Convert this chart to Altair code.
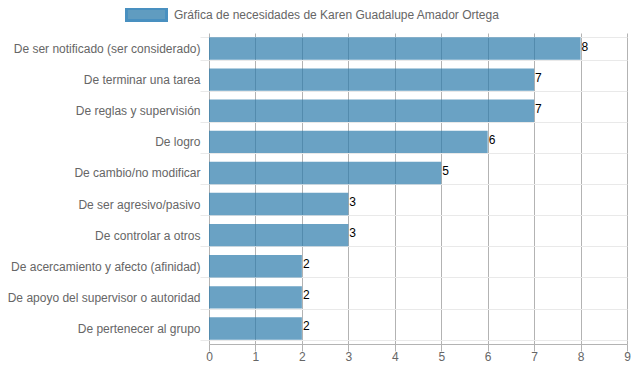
import altair as alt
import pandas as pd

categorias = [
    "De ser notificado (ser considerado)",
    "De terminar una tarea",
    "De reglas y supervisión",
    "De logro",
    "De cambio/no modificar",
    "De ser agresivo/pasivo",
    "De controlar a otros",
    "De acercamiento y afecto (afinidad)",
    "De apoyo del supervisor o autoridad",
    "De pertenecer al grupo",
]
valores = [8, 7, 7, 6, 5, 3, 3, 2, 2, 2]
serie = "Gráfica de necesidades de Karen Guadalupe Amador Ortega"

df = pd.DataFrame({"cat": categorias, "val": valores, "serie": [serie] * len(categorias)})

FONT = "Liberation Sans"

y_enc = alt.Y(
    "cat:N",
    sort=categorias,
    title=None,
    scale=alt.Scale(paddingInner=0.28, paddingOuter=0.14),
    axis=alt.Axis(
        tickBand="extent",
        grid=True,
        gridColor="#e9e9e9",
        tickColor="#e9e9e9",
        tickSize=9,
        domain=False,
        labelPadding=0,
        labelFont=FONT,
        labelFontSize=12,
        labelColor="#666666",
        labelLimit=400,
    ),
)

x_enc = alt.X(
    "val:Q",
    title=None,
    scale=alt.Scale(domain=[0, 9], nice=False),
    axis=alt.Axis(
        values=list(range(10)),
        grid=True,
        gridColor="#b3b3b3",
        domainColor="#b3b3b3",
        tickColor="#b3b3b3",
        tickSize=7,
        labelPadding=0,
        labelFont=FONT,
        labelFontSize=12,
        labelColor="#666666",
        labelFlush=False,
    ),
)

bars = alt.Chart(df).mark_bar(opacity=0.7).encode(
    x=x_enc,
    y=y_enc,
    color=alt.Color(
        "serie:N",
        title=None,
        scale=alt.Scale(range=["#2b7bab"]),
        legend=alt.Legend(
            orient="none",
            legendX=-84,
            legendY=-40,
            symbolType="M-1,-0.3H1V0.3H-1Z",
            symbolSize=1600,
            symbolStrokeWidth=3,
            symbolStrokeColor="#0d6cab",
            symbolOpacity=0.75,
            labelFont=FONT,
            labelFontSize=12,
            labelColor="#666666",
            labelOffset=6,
            labelLimit=600,
            padding=0,
        ),
    ),
)

labels = alt.Chart(df).mark_text(
    align="left", baseline="middle", dx=1, dy=-2, font=FONT, fontSize=12, color="#000000"
).encode(
    x=alt.X("val:Q"),
    y=alt.Y("cat:N", sort=categorias),
    text=alt.Text("val:Q"),
)

chart = (
    alt.layer(bars, labels)
    .properties(
        width=418,
        height=311,
        autosize=alt.AutoSizeParams(type="none"),
        padding={"left": 201, "top": 25, "right": 4, "bottom": 19},
    )
    .configure_view(stroke=None)
    .configure_axis(domainWidth=1, gridWidth=1, tickWidth=1)
)

chart.save("out.html", embed_options={"renderer": "svg", "actions": False})
